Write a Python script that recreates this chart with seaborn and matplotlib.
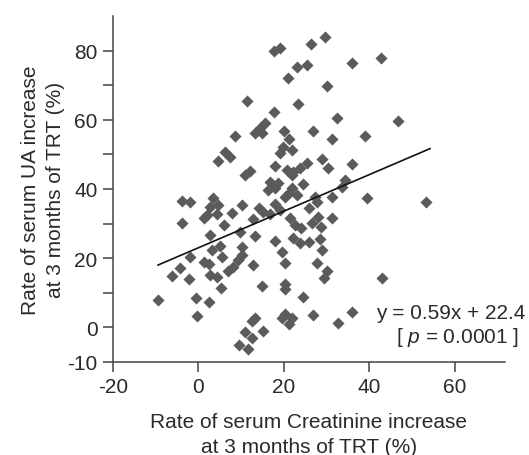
import matplotlib
matplotlib.use("Agg")
import matplotlib.pyplot as plt
import seaborn as sns
import pandas as pd

# ---- data ----
creatinine = [
    17.8, 19.0, 26.3, 29.7, 23.0, 25.5, 20.9, 30.0, 35.9, 42.8,
    11.3, 23.4, 17.7, 32.4, 46.8,
    15.6, 14.4, 13.3, 14.8, 20.1, 21.1, 26.8, 8.6, 31.2, 39.0,
    19.9, 21.9, 6.3, 7.4, 4.5, 19.1, 28.9, 30.4, 25.4, 23.8,
    22.2, 35.9, 12.1, 11.0, 18.0, 20.7, 21.9, 34.4, 33.6,
    16.8, 18.7, 16.4, 18.0, 21.9, 23.0, 21.1, 24.6, 27.3, 31.4,
    39.4, 53.3, 27.7, 25.8, 3.5, 2.7, 4.7, 4.3, 1.9, 1.2,
    10.1, 7.8, 14.1, 15.2, 18.0, 19.1, 16.8, 20.3, 21.5, 22.6,
    24.0, 27.9, 26.5, 28.7, 31.4, 12.9, 5.9, 9.8, 13.3, 18.0,
    22.2, 23.8, 25.8, 28.5, 2.7, 5.1, 3.1, 5.5, 1.2, 2.5,
    -1.9, -3.9, -3.9, -1.9, 10.1, 10.3, 9.2, 8.2, 7.0, 12.9,
    -4.3, -6.1, -2.3, 2.7, 4.3, 5.3, 14.8, 20.3, 20.3, -9.5,
    -0.6, 2.5, -0.4, 13.3, 12.5, 15.2, 10.9, 12.5, 9.6, 11.5,
    20.3, 21.9, 19.5, 21.1, 26.9, 32.8, 35.9, 24.4, 27.7, 30.2,
    29.5, 42.9, 28.9, 19.5, 20.3,
]
uric_acid = [
    80.0, 80.8, 82.0, 83.8, 75.3, 75.8, 72.0, 69.9, 76.3, 77.9,
    65.4, 64.5, 62.3, 60.4, 59.6,
    59.0, 57.5, 56.1, 56.1, 56.8, 54.5, 56.7, 55.2, 54.5, 55.4,
    52.2, 51.2, 50.8, 49.2, 48.2, 50.3, 48.6, 46.1, 47.4, 46.0,
    45.0, 47.1, 45.3, 44.0, 46.6, 45.5, 44.0, 42.5, 40.7,
    42.1, 41.6, 39.7, 40.2, 40.2, 38.2, 38.7, 41.4, 37.7, 37.7,
    37.3, 36.3, 36.3, 34.4, 37.3, 34.9, 35.3, 32.9, 32.5, 31.5,
    35.5, 33.2, 34.4, 33.4, 35.8, 33.9, 32.9, 37.7, 31.5, 29.6,
    28.6, 31.8, 30.3, 28.9, 31.7, 31.3, 29.6, 27.6, 26.4, 25.0,
    25.7, 24.3, 24.8, 25.5, 26.8, 23.6, 22.3, 20.4, 19.0, 18.3,
    36.1, 36.5, 30.1, 20.4, 23.3, 20.9, 19.5, 17.6, 16.3, 18.0,
    17.2, 14.8, 14.0, 15.1, 14.6, 11.3, 11.9, 12.5, 11.0, 8.0,
    8.6, 7.2, 3.2, 2.8, 1.8, -0.9, -1.3, -3.2, -5.1, -6.1,
    3.8, 2.6, 2.6, 0.9, 3.5, 1.2, 4.5, 8.9, 18.5, 16.4,
    14.4, 14.2, 22.3, 21.9, 18.5,
]
fit_x = [-9.5, 54.3]
fit_y = [18.0, 51.7]

x_ticks = [-20, 0, 20, 40, 60]
y_ticks = [-10, 0, 10, 20, 30, 40, 50, 60, 70, 80]
y_tick_labels = ["-10", "0", "", "20", "", "40", "", "60", "", "80"]

x_label = "Rate of serum Creatinine increase\nat 3 months of TRT (%)"
y_label = "Rate of serum UA increase\nat 3 months of TRT (%)"
eq_text = "y = 0.59x + 22.4"
p_text = "[ $p$ = 0.0001 ]"

# ---- plotting ----
sns.set_theme(style="ticks")
plt.rcParams["font.family"] = ["Liberation Sans", "DejaVu Sans"]
plt.rcParams["mathtext.fontset"] = "custom"
plt.rcParams["mathtext.it"] = "Liberation Sans:italic"

df = pd.DataFrame({"cr": creatinine, "ua": uric_acid})
line_df = pd.DataFrame({"x": fit_x, "y": fit_y})

fig = plt.figure(figsize=(5.29, 4.56), dpi=100)
ax = fig.add_axes([113 / 529, 1 - 363 / 456, (505 - 113) / 529, (363 - 17) / 456])

text_color = "#2a2a2a"
spine_color = "#444444"
fs = 15

sns.scatterplot(data=df, x="cr", y="ua", marker="D", s=38, color="#5b5b5b",
                linewidth=0, ax=ax, zorder=2)
sns.lineplot(data=line_df, x="x", y="y", color="#111111", linewidth=1.2,
             ax=ax, zorder=3)

ax.set_xlim(-20, 71.8)
ax.set_ylim(-10, 90)
ax.set_xticks(x_ticks)
ax.set_xticklabels([str(t) for t in x_ticks])
ax.set_yticks(y_ticks)
ax.set_yticklabels(y_tick_labels)

for s in ["top", "right"]:
    ax.spines[s].set_visible(False)
for s in ["left", "bottom"]:
    ax.spines[s].set_color(spine_color)
    ax.spines[s].set_linewidth(1.1)

ax.tick_params(axis="both", length=7, width=1.1, color=spine_color,
               labelsize=fs, labelcolor=text_color, pad=4)

ax.set_xlabel(x_label, fontsize=fs, color=text_color, labelpad=11,
              linespacing=1.4)
ax.set_ylabel(y_label, fontsize=fs, color=text_color, labelpad=2,
              linespacing=1.4)

ax.text(59.0, 4.2, eq_text, fontsize=fs, color=text_color,
        ha="center", va="center")
ax.text(60.6, -2.5, p_text, fontsize=fs, color=text_color,
        ha="center", va="center")

fig.savefig("out.png", dpi=100)
